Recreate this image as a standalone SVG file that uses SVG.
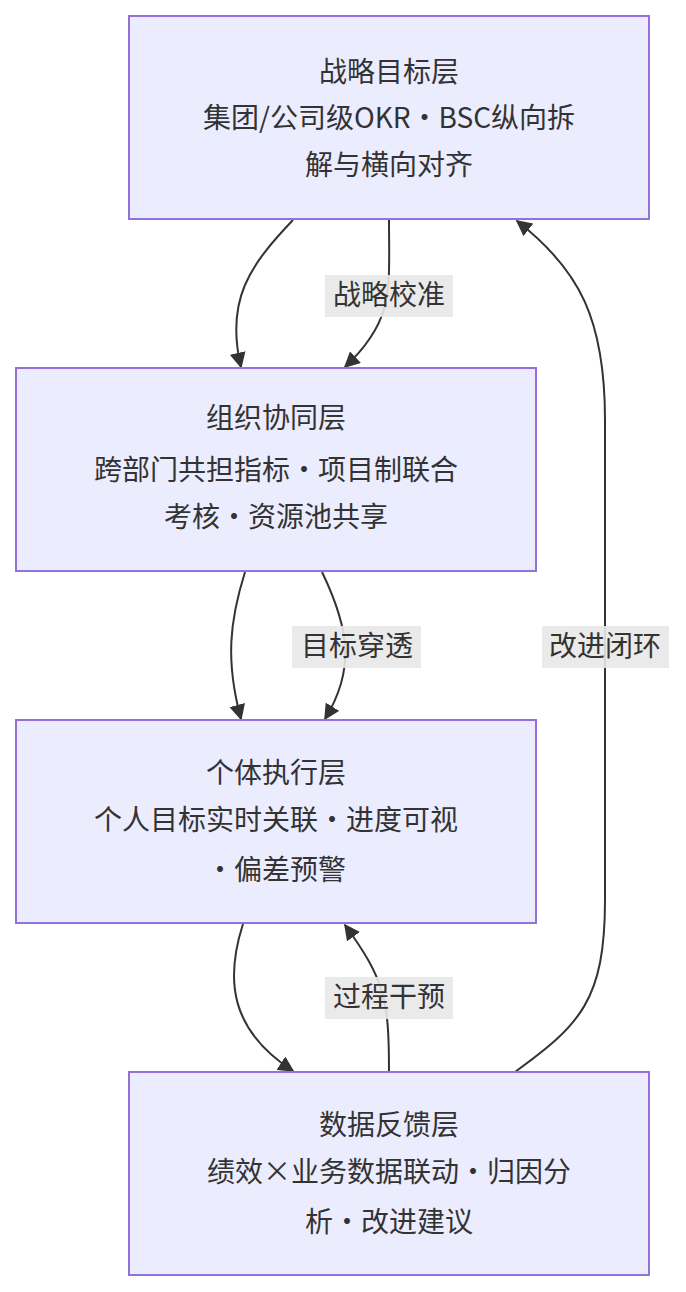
<svg xmlns="http://www.w3.org/2000/svg" width="686" height="1292" viewBox="0 0 686 1292">
<style>
.n{fill:#ECECFF;stroke:#9370DB;stroke-width:2}
.t{font-family:"Noto Sans CJK SC","Noto Sans",sans-serif;font-size:28px;fill:#333;text-anchor:middle}
.e{fill:none;stroke:#333;stroke-width:2;marker-end:url(#a)}
.lb{fill:#e8e8e8;opacity:0.9}
</style>
<defs><marker id="a" viewBox="0 0 10 10" refX="9" refY="5" markerWidth="8" markerHeight="8" orient="auto"><path d="M0,0L10,5L0,10z" fill="#333"/></marker></defs>
<rect width="686" height="1292" fill="#fff"/>
<g id="edges">
<path class="e" d="M293,220 C250,265 225,300 241,367"/>
<path class="e" d="M389,220 C389,290 395,320 345,367"/>
<path class="e" d="M245,572 C230,620 225,660 241,719"/>
<path class="e" d="M322,572 C350,630 355,670 325,719"/>
<path class="e" d="M243,924 C225,980 230,1030 293,1071"/>
<path class="e" d="M389,1072 C389,1000 385,980 345,925"/>
<path class="e" d="M515,1072 C580,1025 605,1000 605,900 L605,420 C605,320 580,270 517,221"/>
<rect class="lb" x="325" y="275" width="128" height="42"/><text class="t" x="389" y="305">战略校准</text>
<rect class="lb" x="292" y="626" width="129" height="42"/><text class="t" x="357" y="656">目标穿透</text>
<rect class="lb" x="325" y="977" width="128" height="42"/><text class="t" x="389" y="1007">过程干预</text>
<rect class="lb" x="542" y="626" width="127" height="42"/><text class="t" x="605" y="656">改进闭环</text>
</g>
<g id="n1"><rect class="n" x="129" y="16" width="520" height="203"/>
<text class="t" x="389" y="82">战略目标层</text><text class="t" x="389" y="128">集团/公司级OKR·BSC纵向拆</text><text class="t" x="389" y="175">解与横向对齐</text></g>
<g id="n2"><rect class="n" x="16" y="368" width="520" height="203"/>
<text class="t" x="276" y="428">组织协同层</text><text class="t" x="276" y="480">跨部门共担指标·项目制联合</text><text class="t" x="276" y="527">考核·资源池共享</text></g>
<g id="n3"><rect class="n" x="16" y="720" width="520" height="203"/>
<text class="t" x="276" y="783">个体执行层</text><text class="t" x="276" y="830">个人目标实时关联·进度可视</text><text class="t" x="276" y="880">·偏差预警</text></g>
<g id="n4"><rect class="n" x="129" y="1072" width="520" height="203"/>
<text class="t" x="389" y="1135">数据反馈层</text><text class="t" x="389" y="1182">绩效×业务数据联动·归因分</text><text class="t" x="389" y="1232">析·改进建议</text></g>
</svg>
